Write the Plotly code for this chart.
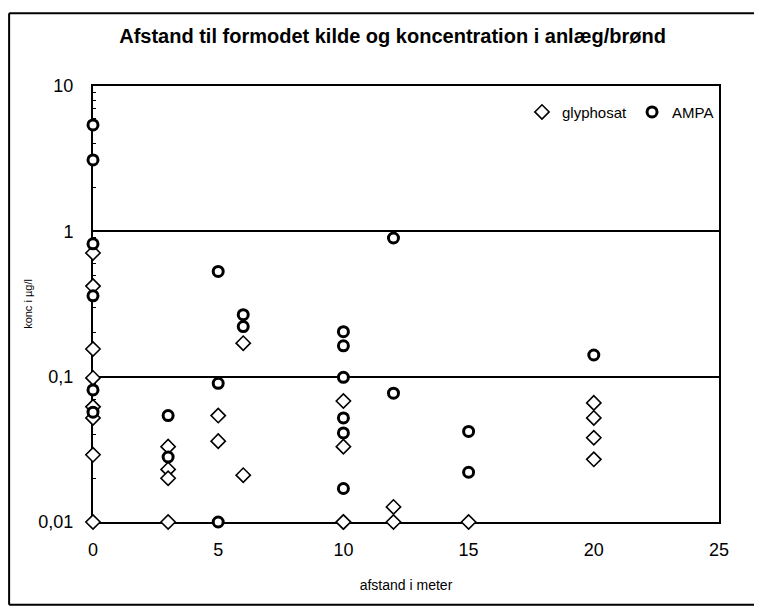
import plotly.graph_objects as go

# afstand (m) og koncentration (µg/l)
glyph_x = [0, 0, 0, 0, 0, 0, 0, 0,
           3, 3, 3, 3,
           5, 5, 6, 6,
           10, 10, 10, 10,
           12, 12,
           15,
           20, 20, 20, 20]
glyph_y = [0.71, 0.42, 0.155, 0.098, 0.062, 0.052, 0.029, 0.01,
           0.033, 0.023, 0.020, 0.01,
           0.054, 0.036, 0.170, 0.021,
           0.068, 0.033, 0.01, 0.01,
           0.0127, 0.01,
           0.01,
           0.066, 0.052, 0.038, 0.027]

ampa_x = [0, 0, 0, 0, 0, 0,
          3, 3,
          5, 5, 5, 6, 6,
          10, 10, 10, 10, 10, 10,
          12, 12,
          15, 15,
          20]
ampa_y = [5.4, 3.1, 0.82, 0.36, 0.081, 0.057,
          0.054, 0.028,
          0.53, 0.090, 0.01, 0.267, 0.221,
          0.204, 0.163, 0.099, 0.052, 0.041, 0.017,
          0.90, 0.077,
          0.042, 0.022,
          0.141]

y_ticks = [0.01, 0.1, 1, 10]
y_labels = ['0,01', '0,1', '1', '10']
x_ticks = [0, 5, 10, 15, 20, 25]

font = 'Liberation Sans, Arial, sans-serif'

# små mellemstreger på log-aksen
minor_vals = [m * d for d in (0.01, 0.1, 1) for m in range(2, 10)]

fig = go.Figure()
fig.add_trace(go.Scatter(
    x=glyph_x, y=glyph_y, mode='markers', name='glyphosat',
    marker=dict(symbol='diamond', size=11, color='white',
                line=dict(color='black', width=1.6)),
    cliponaxis=False,
))
fig.add_trace(go.Scatter(
    x=ampa_x, y=ampa_y, mode='markers', name='AMPA',
    marker=dict(symbol='circle', size=10, color='white',
                line=dict(color='black', width=3)),
    cliponaxis=False,
))

# ydre ramme om diagrammet (venstre, top, bund)
frame = dict(type='line', xref='paper', yref='paper', line=dict(color='black', width=2))
fig.add_shape(x0=-0.134, x1=-0.134, y0=-0.19, y1=1.167, **frame)
fig.add_shape(x0=-0.134, x1=1.2, y0=1.167, y1=1.167, **frame)
fig.add_shape(x0=-0.134, x1=1.2, y0=-0.19, y1=-0.19, **frame)

fig.update_layout(
    width=754, height=600,
    margin=dict(l=85, r=43, t=78, b=86),
    paper_bgcolor='white', plot_bgcolor='white',
    font=dict(family=font, color='black', size=15),
    title=dict(text='<b>Afstand til formodet kilde og koncentration i anlæg/brønd</b>',
               x=0.51, xanchor='center', y=0.953, yanchor='middle',
               font=dict(size=20, family=font)),
    showlegend=True,
    legend=dict(orientation='h', x=1.0, xanchor='right', y=0.94, yanchor='middle',
                bgcolor='rgba(0,0,0,0)', font=dict(size=15), itemwidth=30,
                tracegroupgap=0),
    xaxis=dict(range=[0, 25], tickvals=x_ticks, showgrid=False, zeroline=False,
               showline=True, linecolor='black', linewidth=2, mirror=True,
               ticks='', tickfont=dict(size=18), layer='below traces',
               ticklabelstandoff=10, automargin=False,
               title=dict(text='afstand i meter', font=dict(size=14), standoff=22)),
    yaxis=dict(type='log', range=[-2, 1], tickvals=y_ticks, ticktext=y_labels,
               showgrid=True, gridcolor='black', gridwidth=2, zeroline=False,
               showline=True, linecolor='black', linewidth=2, mirror=True,
               ticks='inside', ticklen=4, tickcolor='black',
               minor=dict(tickvals=minor_vals, ticks='inside', ticklen=3, tickwidth=1,
                          tickcolor='black', showgrid=False),
               tickfont=dict(size=18), layer='below traces',
               ticklabelstandoff=14, automargin=False,
               title=dict(text='konc i µg/l', font=dict(size=11), standoff=4)),
)

fig.write_html('out.html')
